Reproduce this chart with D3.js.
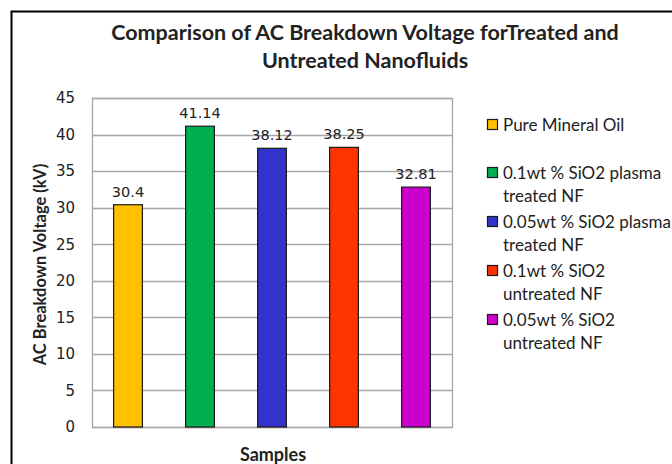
<!DOCTYPE html>
<meta charset="utf-8">
<style>
  body { margin: 0; background: #fff; }
  text { fill: #222; }
</style>
<body>
<svg id="chart" width="672" height="464"></svg>
<script src="https://cdn.jsdelivr.net/npm/d3@7"></script>
<script>
// chart data
var categories = ["Pure Mineral Oil", "0.1wt % SiO2 plasma treated NF", "0.05wt % SiO2 plasma treated NF",
                  "0.1wt % SiO2 untreated NF", "0.05wt % SiO2 untreated NF"];
var values = [30.4, 41.14, 38.12, 38.25, 32.81];
var valueLabels = ["30.4", "41.14", "38.12", "38.25", "32.81"];
var colors = ["#FFC000", "#00B050", "#3333CC", "#FF3300", "#CC00CC"];
var legendLines = [["Pure Mineral Oil"], ["0.1wt % SiO2 plasma", "treated NF"], ["0.05wt % SiO2 plasma", "treated NF"],
                   ["0.1wt % SiO2", "untreated NF"], ["0.05wt % SiO2", "untreated NF"]];
var yTicks = [0, 5, 10, 15, 20, 25, 30, 35, 40, 45];

var svg = d3.select("#chart");

// outer frame
svg.append("rect")
    .attr("x", 11.5).attr("y", 11.5)
    .attr("width", 700).attr("height", 500)
    .attr("fill", "none").attr("stroke", "#000").attr("stroke-width", 2);

var plot = { left: 92, right: 452, top: 98, bottom: 427 };

var x = d3.scaleBand()
    .domain(categories)
    .range([plot.left, plot.right])
    .paddingInner(0.6)
    .paddingOuter(0.3);

var y = d3.scaleLinear()
    .domain([0, 45])
    .range([plot.bottom, plot.top]);

// gridlines
svg.append("g")
    .selectAll("line")
    .data(yTicks)
    .enter().append("line")
    .attr("x1", plot.left).attr("x2", plot.right)
    .attr("y1", function(d) { return Math.round(y(d)) + 0.5; })
    .attr("y2", function(d) { return Math.round(y(d)) + 0.5; })
    .attr("stroke", "#a6a6a6").attr("stroke-width", 1.3);

// plot border
svg.append("rect")
    .attr("x", plot.left + 0.5).attr("y", plot.top + 0.5)
    .attr("width", plot.right - plot.left).attr("height", plot.bottom - plot.top)
    .attr("fill", "none").attr("stroke", "#a6a6a6").attr("stroke-width", 1.3);

// y axis labels
var yAxis = d3.axisLeft(y).tickValues(yTicks).tickSize(0).tickPadding(0);
var gy = svg.append("g")
    .attr("transform", "translate(" + (plot.left - 17) + ",0)")
    .call(yAxis);
gy.select(".domain").remove();
gy.selectAll("text")
    .style("font-family", "'DejaVu Sans', Verdana, sans-serif")
    .style("font-size", "15px")
    .attr("fill", "#222");

// bars
svg.append("g")
    .selectAll("rect")
    .data(values)
    .enter().append("rect")
    .attr("x", function(d, i) { return x(categories[i]); })
    .attr("y", function(d) { return y(d); })
    .attr("width", x.bandwidth())
    .attr("height", function(d) { return y(0) - y(d); })
    .attr("fill", function(d, i) { return colors[i]; })
    .attr("stroke", "#1a1a1a").attr("stroke-width", 1.2);

// value labels
svg.append("g")
    .selectAll("text")
    .data(values)
    .enter().append("text")
    .attr("x", function(d, i) { return x(categories[i]) + x.bandwidth() / 2; })
    .attr("y", function(d) { return y(d) - 8; })
    .attr("text-anchor", "middle")
    .style("font-family", "'DejaVu Sans', Verdana, sans-serif")
    .style("font-size", "14.5px")
    .text(function(d, i) { return valueLabels[i]; });

// title
var title = svg.append("text")
    .attr("text-anchor", "middle")
    .style("font-family", "Lato, 'Open Sans', sans-serif")
    .style("font-weight", "bold")
    .style("font-size", "21.5px");
title.append("tspan").attr("x", 365).attr("y", 40).text("Comparison of AC Breakdown Voltage forTreated and");
title.append("tspan").attr("x", 365).attr("y", 68).text("Untreated Nanofluids");

// axis titles
svg.append("text")
    .attr("transform", "translate(46," + ((plot.top + plot.bottom) / 2 + 2) + ") rotate(-90)")
    .attr("text-anchor", "middle")
    .style("font-family", "Lato, 'Open Sans', sans-serif")
    .style("font-weight", "bold")
    .style("font-size", "16.5px")
    .text("AC Breakdown Voltage (kV)");

svg.append("text")
    .attr("x", 273).attr("y", 461)
    .attr("text-anchor", "middle")
    .style("font-family", "Lato, 'Open Sans', sans-serif")
    .style("font-weight", "bold")
    .style("font-size", "18px")
    .text("Samples");

// legend
var legendY = [125, 173, 222, 271, 320];
var legend = svg.append("g")
    .selectAll("g")
    .data(legendLines)
    .enter().append("g")
    .attr("transform", function(d, i) { return "translate(487," + legendY[i] + ")"; });

legend.append("rect")
    .attr("x", 0.5).attr("y", -5.5)
    .attr("width", 10).attr("height", 10)
    .attr("fill", function(d, i) { return colors[i]; })
    .attr("stroke", "#1a1a1a").attr("stroke-width", 1.2);

legend.each(function(lines) {
  var t = d3.select(this).append("text")
      .style("font-family", "Lato, 'Open Sans', sans-serif")
      .style("font-size", "17px");
  lines.forEach(function(s, j) {
    t.append("tspan").attr("x", 16).attr("y", 6 + j * 23).text(s);
  });
});
</script>
</body>
